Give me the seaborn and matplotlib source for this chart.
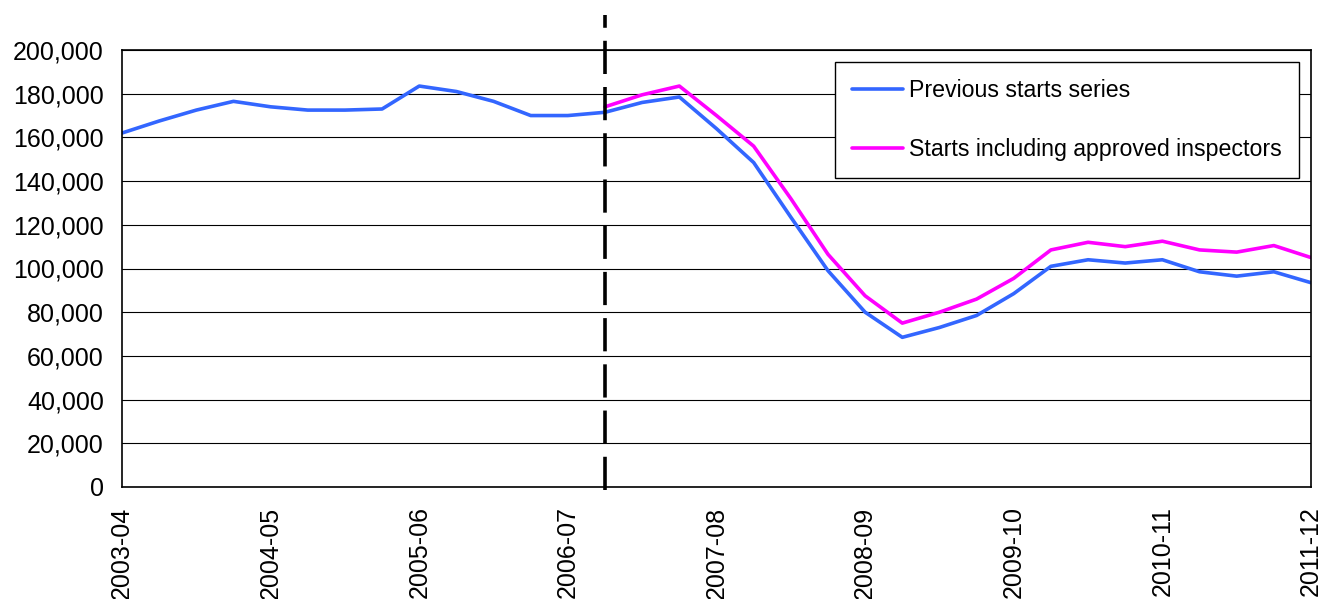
# housing_starts_series.py

import matplotlib
matplotlib.use("Agg")
import pandas as pd
import matplotlib.pyplot as plt
import seaborn as sns
from matplotlib.ticker import FuncFormatter, MultipleLocator

# financial years, one label per four quarters
year_labels = ['2003-04', '2004-05', '2005-06', '2006-07', '2007-08',
               '2008-09', '2009-10', '2010-11', '2011-12']

# quarterly starts
previous_starts = [162000, 167500, 172500, 176500, 174000, 172500, 172500, 173000,
                   183500, 181000, 176500, 170000, 170000, 171500, 176000, 178500,
                   164000, 148500, 123500, 99000, 80000, 68500, 73000, 78500,
                   88500, 101000, 104000, 102500, 104000, 98500, 96500, 98500,
                   93500]
approved_starts = [174000, 179500, 183500, 170000, 156000, 132000, 106500, 87500,
                   75000, 80000, 86000, 95500, 108500, 112000, 110000, 112500,
                   108500, 107500, 110500, 105000]

# quarter where the new series begins (dashed marker)
break_quarter = 13

series_names = ['Previous starts series', 'Starts including approved inspectors']
series_colors = ['#3366FF', '#FF00FF']

quarters = list(range(len(previous_starts)))
df = pd.DataFrame({
    'quarter': quarters + quarters[break_quarter:],
    'starts': previous_starts + approved_starts,
    'series': [series_names[0]] * len(previous_starts)
              + [series_names[1]] * len(approved_starts),
})

sns.set_style('white')
plt.rcParams['font.family'] = ['Liberation Sans', 'DejaVu Sans']
plt.rcParams['text.color'] = 'black'

fig = plt.figure(figsize=(13.2, 5.99), dpi=100)
ax = fig.add_axes([122 / 1320, 1 - 487 / 599, 1189 / 1320, 437 / 599])

sns.lineplot(data=df, x='quarter', y='starts', hue='series',
             palette=dict(zip(series_names, series_colors)),
             linewidth=2.6, ax=ax)

# dashed marker where the series changes, poking above the plot
ax.axvline(break_quarter, ymin=-0.007, ymax=1.080, color='black', linewidth=2.6,
           dashes=(9.2, 3.6), clip_on=False, zorder=5)

ax.set_xlim(0, len(previous_starts) - 1)
ax.set_ylim(0, 200000)
ax.yaxis.set_major_locator(MultipleLocator(20000))
ax.yaxis.set_major_formatter(FuncFormatter(lambda v, p: f'{v:,.0f}'))
ax.set_xticks(quarters[::4])
ax.set_xticklabels(year_labels, rotation=90)
ax.xaxis.set_minor_locator(MultipleLocator(1))

ax.tick_params(axis='both', which='both', direction='out', length=5,
               width=1, color='black', labelsize=18, labelcolor='black')
ax.tick_params(axis='y', pad=8)
ax.tick_params(axis='x', pad=9)
ax.set_xlabel('')
ax.set_ylabel('')

ax.grid(axis='y', color='black', linewidth=0.8)
ax.set_axisbelow(True)
for side in ax.spines.values():
    side.set_color('black')
    side.set_linewidth(1.2)

sns.move_legend(ax, 'upper right', title=None, fontsize=16.7, frameon=True,
                fancybox=False, edgecolor='black', framealpha=1,
                handlelength=2.2, handletextpad=0.25, labelspacing=1.55,
                borderpad=0.75, borderaxespad=0.5)
ax.get_legend().get_frame().set_linewidth(1.0)

fig.savefig('out.png', dpi=100)
